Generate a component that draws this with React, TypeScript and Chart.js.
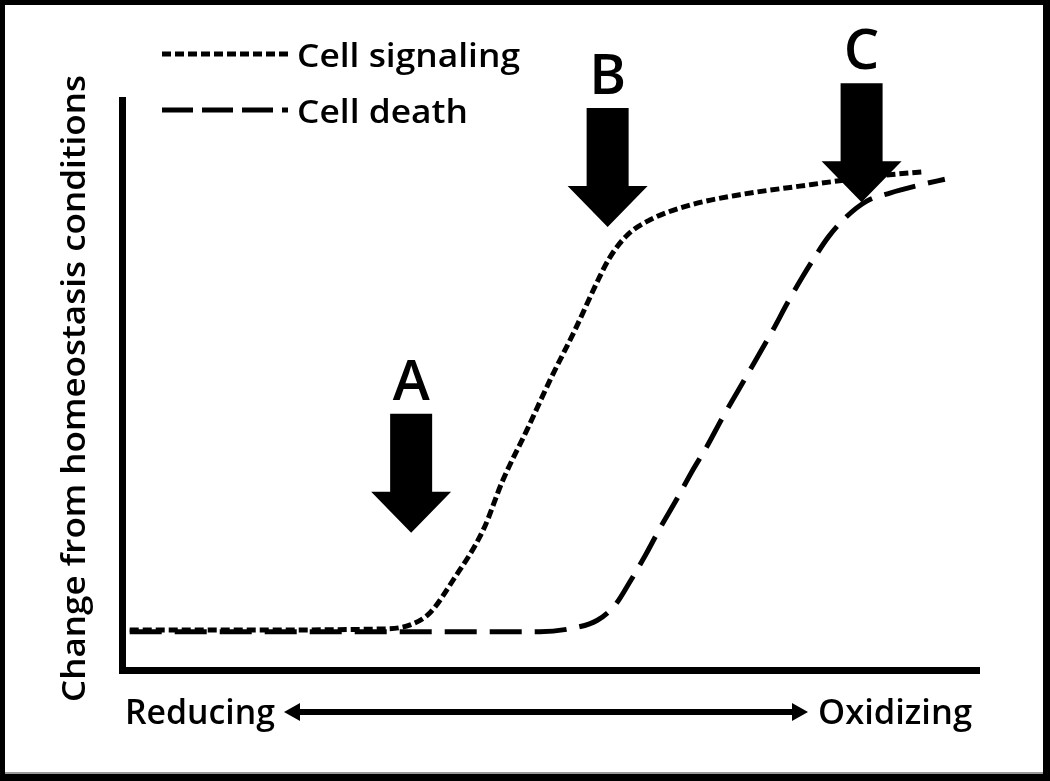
import React, { useEffect, useRef } from "react";
import { Chart, registerables } from "chart.js";

Chart.register(...registerables);

// ---- data (x: reducing -> oxidizing, 0..100; y: change from homeostasis, 0..100) ----
const signalingX = [0.9, 14.9, 30.7, 33.6, 35.9, 38.6, 42.1, 44.4, 47.2, 49.9, 52.8, 55.5, 56.9, 58.9, 61.5, 66.2, 72.0, 79.0, 88.3, 93.4];
const signalingY = [7.3, 7.3, 7.5, 8.2, 10.3, 16.0, 24.7, 33.4, 42.1, 50.8, 59.5, 68.2, 72.2, 76.0, 78.6, 81.2, 83.0, 84.5, 86.3, 87.0];

const deathX = [0.9, 32.4, 48.7, 52.8, 55.4, 57.5, 59.2, 61.0, 62.7, 64.6, 66.4, 68.2, 69.9, 71.8, 73.8, 75.8, 77.6, 79.3, 80.8, 82.4, 84.3, 86.8, 89.5, 93.0, 95.9];
const deathY = [7.0, 7.0, 7.0, 7.7, 9.0, 11.7, 15.7, 20.3, 25.0, 29.9, 34.8, 39.3, 44.0, 48.9, 54.1, 59.3, 64.3, 68.7, 72.3, 75.8, 79.0, 81.9, 83.3, 84.7, 85.7];

const seriesLabels = ["Cell signaling", "Cell death"];

const arrowLabels = ["A", "B", "C"];
const arrowX = [33.7, 56.6, 86.2];
const arrowTipY = [24.2, 77.4, 81.7];

const yAxisTitle = "Change from homeostasis conditions";
const xAxisLeftLabel = "Reducing";
const xAxisRightLabel = "Oxidizing";

const FONT = "'Open Sans', 'DejaVu Sans', sans-serif";
const signalingDash = [9, 4];
const deathDash = [32, 13];

function fitText(ctx: CanvasRenderingContext2D, text: string, x: number, y: number, width: number, font: string) {
  ctx.save();
  ctx.font = font;
  ctx.textAlign = "left";
  ctx.textBaseline = "alphabetic";
  const w = ctx.measureText(text).width;
  ctx.translate(x, y);
  ctx.scale(width / w, 1);
  ctx.fillText(text, 0, 0);
  ctx.restore();
}

const decorPlugin = {
  id: "decor",
  beforeDatasetsDraw(chart: any) {
    const ctx: CanvasRenderingContext2D = chart.ctx;
    const { left, right, top, bottom } = chart.chartArea;
    ctx.save();
    ctx.fillStyle = "#000";
    // frame
    const W = chart.width, H = chart.height;
    ctx.fillRect(0, 0, W, 5);
    ctx.fillRect(0, 0, 5, H);
    ctx.fillRect(W - 7, 0, 7, H);
    ctx.fillRect(0, H - 7, W, 7);
    ctx.fillStyle = "#9a9a9a";
    ctx.fillRect(5, H - 9, W - 12, 2);
    ctx.fillStyle = "#000";
    // axes
    ctx.fillRect(left - 3, top, 7, bottom - top + 2);
    ctx.fillRect(left - 3, bottom - 5, right - left + 3, 7);

    // y-axis title (rotated)
    ctx.save();
    ctx.translate(85, 702);
    ctx.rotate(-Math.PI / 2);
    fitText(ctx, yAxisTitle, 0, 0, 627, `600 32px ${FONT}`);
    ctx.restore();

    // x-axis labels with double arrow
    fitText(ctx, xAxisLeftLabel, 125, 724, 150, `600 34px ${FONT}`);
    fitText(ctx, xAxisRightLabel, 818, 724, 154, `600 34px ${FONT}`);
    const ay = 712;
    ctx.fillRect(296, ay - 3, 500, 6);
    ctx.beginPath();
    ctx.moveTo(284, ay);
    ctx.lineTo(300, ay - 9);
    ctx.lineTo(300, ay + 9);
    ctx.closePath();
    ctx.fill();
    ctx.beginPath();
    ctx.moveTo(808, ay);
    ctx.lineTo(792, ay - 9);
    ctx.lineTo(792, ay + 9);
    ctx.closePath();
    ctx.fill();

    // legend
    const legendY = [54, 110];
    const widths = [5, 5];
    const textW = [223, 171];
    for (let i = 0; i < seriesLabels.length; i++) {
      ctx.save();
      ctx.strokeStyle = "#000";
      ctx.lineWidth = widths[i];
      ctx.setLineDash(i === 0 ? signalingDash : [31, 9]);
      ctx.beginPath();
      ctx.moveTo(162, legendY[i]);
      ctx.lineTo(288, legendY[i]);
      ctx.stroke();
      ctx.restore();
      fitText(ctx, seriesLabels[i], 297, legendY[i] + 13, textW[i], `600 32px ${FONT}`);
    }
    ctx.restore();
  },
  afterDatasetsDraw(chart: any) {
    const ctx: CanvasRenderingContext2D = chart.ctx;
    const xs = chart.scales.x;
    const ys = chart.scales.y;
    ctx.save();
    ctx.fillStyle = "#000";
    for (let i = 0; i < arrowLabels.length; i++) {
      const tx = xs.getPixelForValue(arrowX[i]);
      const ty = ys.getPixelForValue(arrowTipY[i]);
      ctx.beginPath();
      ctx.moveTo(tx, ty);
      ctx.lineTo(tx - 40, ty - 41);
      ctx.lineTo(tx - 21, ty - 41);
      ctx.lineTo(tx - 21, ty - 119);
      ctx.lineTo(tx + 21, ty - 119);
      ctx.lineTo(tx + 21, ty - 41);
      ctx.lineTo(tx + 40, ty - 41);
      ctx.closePath();
      ctx.fill();
      ctx.font = `600 56px ${FONT}`;
      ctx.textAlign = "center";
      ctx.textBaseline = "alphabetic";
      ctx.fillText(arrowLabels[i], tx, ty - 133);
    }
    ctx.restore();
  },
};

export default function App() {
  const ref = useRef<HTMLCanvasElement>(null);
  useEffect(() => {
    document.body.style.margin = "0";
    const canvas = ref.current;
    if (!canvas) return;
    const chart = new Chart(canvas, {
      type: "line",
      data: {
        datasets: [
          {
            label: seriesLabels[0],
            data: signalingX.map((x, i) => ({ x, y: signalingY[i] })),
            borderColor: "#000",
            borderWidth: 5,
            borderDash: signalingDash,
            pointRadius: 0,
            cubicInterpolationMode: "monotone",
            fill: false,
          },
          {
            label: seriesLabels[1],
            data: deathX.map((x, i) => ({ x, y: deathY[i] })),
            borderColor: "#000",
            borderWidth: 5,
            borderDash: deathDash,
            pointRadius: 0,
            cubicInterpolationMode: "monotone",
            fill: false,
          },
        ],
      },
      options: {
        responsive: false,
        animation: false,
        layout: { padding: { left: 122, right: 70, top: 97, bottom: 109 } },
        scales: {
          x: { type: "linear", min: 0, max: 100, display: false },
          y: { type: "linear", min: 0, max: 100, display: false },
        },
        plugins: { legend: { display: false }, tooltip: { enabled: false } },
      },
      plugins: [decorPlugin],
    });
    return () => chart.destroy();
  }, []);
  return (
    <div style={{ width: 1050, height: 781, background: "#fff" }}>
      <canvas ref={ref} width={1050} height={781} style={{ display: "block" }} />
    </div>
  );
}
